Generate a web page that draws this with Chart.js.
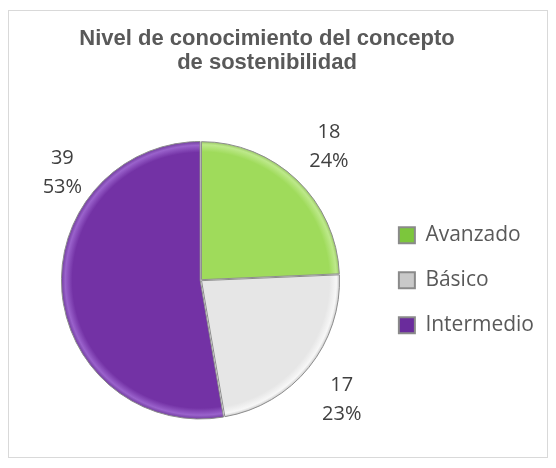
<!DOCTYPE html>
<html><head><meta charset="utf-8">
<script src="https://cdn.jsdelivr.net/npm/chart.js@4.4.1/dist/chart.umd.min.js"></script>
<style>
html,body{margin:0;padding:0;background:#fff;}
#wrap{position:relative;width:556px;height:468px;}
#frame{position:absolute;left:8px;top:10px;width:540px;height:448px;border:1px solid #d9d9d9;box-sizing:border-box;}
canvas{position:absolute;left:0;top:0;}
</style></head><body>
<div id="wrap"><div id="frame"></div><canvas id="c" width="556" height="468"></canvas></div>
<script>
// ---- data ----
const categories = ['Avanzado', 'Básico', 'Intermedio'];
const values = [18, 17, 39];
const titleLines = ['Nivel de conocimiento del concepto', 'de sostenibilidad'];

// ---- styles ----
const sliceBase  = ['#9fdb5b', '#e6e6e6', '#7332a5'];
const sliceLight = ['#bde98a', '#f7f7f7', '#9a62cc'];
const sliceRim   = ['#6f9e3c', '#9a9a9a', '#4f1f78'];
const legendColors = ['#7cc63c', '#c9c9c9', '#6a2c9c'];
const labelAngleShift = [0, 1.5, 42.6];   // degrees, added to slice mid-angle
const labelDist = [1.34, 1.34, 1.27];     // multiples of radius
const titleShiftX = -18.5;                // title centred a bit left of canvas middle

function sliceFill(ctx) {
  const chart = ctx.chart;
  const a = chart.chartArea;
  const i = ctx.dataIndex;
  if (!a) return sliceBase[i];
  const cx = (a.left + a.right) / 2, cy = (a.top + a.bottom) / 2;
  const g = chart.ctx.createRadialGradient(cx, cy, 0, cx, cy, 142);
  g.addColorStop(0, sliceBase[i]);
  g.addColorStop(0.90, sliceBase[i]);
  g.addColorStop(0.95, sliceLight[i]);
  g.addColorStop(1, sliceRim[i]);
  return g;
}

const sliceLabels = {
  id: 'sliceLabels',
  afterLayout(chart) {
    const t = chart.titleBlock;
    if (t) { t.left += titleShiftX; t.right += titleShiftX; }
  },
  afterDatasetsDraw(chart) {
    const meta = chart.getDatasetMeta(0);
    const data = chart.data.datasets[0].data;
    const total = data.reduce((s, v) => s + v, 0);
    const ctx = chart.ctx;
    ctx.save();
    ctx.font = '20px "Open Sans"';
    ctx.fillStyle = '#404040';
    ctx.textAlign = 'center';
    ctx.textBaseline = 'middle';
    meta.data.forEach((arc, i) => {
      const p = arc.getProps(['x', 'y', 'startAngle', 'endAngle', 'outerRadius'], true);
      const mid = (p.startAngle + p.endAngle) / 2 + labelAngleShift[i] * Math.PI / 180;
      const r = p.outerRadius * labelDist[i];
      const lx = p.x + Math.cos(mid) * r;
      const ly = p.y + Math.sin(mid) * r;
      ctx.fillText(String(data[i]), lx, ly - 14.5);
      ctx.fillText(Math.round(data[i] / total * 100) + '%', lx, ly + 14.5);
    });
    ctx.restore();
  }
};

function draw() {
  new Chart(document.getElementById('c'), {
    type: 'pie',
    data: {
      labels: categories,
      datasets: [{
        data: values,
        backgroundColor: sliceFill,
        borderColor: '#8c8c8c',
        borderWidth: 1,
        offset: 3,
        radius: 138
      }]
    },
    options: {
      responsive: false,
      animation: false,
      events: [],
      layout: { padding: { left: 27, right: 12, top: 14, bottom: 0 } },
      plugins: {
        tooltip: { enabled: false },
        title: {
          display: true,
          text: titleLines,
          color: '#595959',
          font: { family: '"Liberation Sans", Arial, sans-serif', size: 22, weight: 'bold', lineHeight: 1.1 },
          padding: { top: 13, bottom: 17 }
        },
        legend: {
          position: 'right',
          fullSize: false,
          labels: {
            boxWidth: 16,
            boxHeight: 16,
            padding: 24,
            color: '#595959',
            font: { family: '"Open Sans"', size: 21 },
            generateLabels(chart) {
              return chart.data.labels.map((l, i) => ({
                text: l,
                fillStyle: legendColors[i],
                strokeStyle: '#8a8a8a',
                lineWidth: 2,
                fontColor: '#595959',
                hidden: false,
                index: i
              }));
            }
          }
        }
      }
    },
    plugins: [sliceLabels]
  });
}

Promise.all([
  document.fonts.load('20px "Open Sans"'),
  document.fonts.load('21px "Open Sans"'),
  document.fonts.load('bold 22px "Liberation Sans"')
]).then(draw, draw);
</script>
</body></html>
